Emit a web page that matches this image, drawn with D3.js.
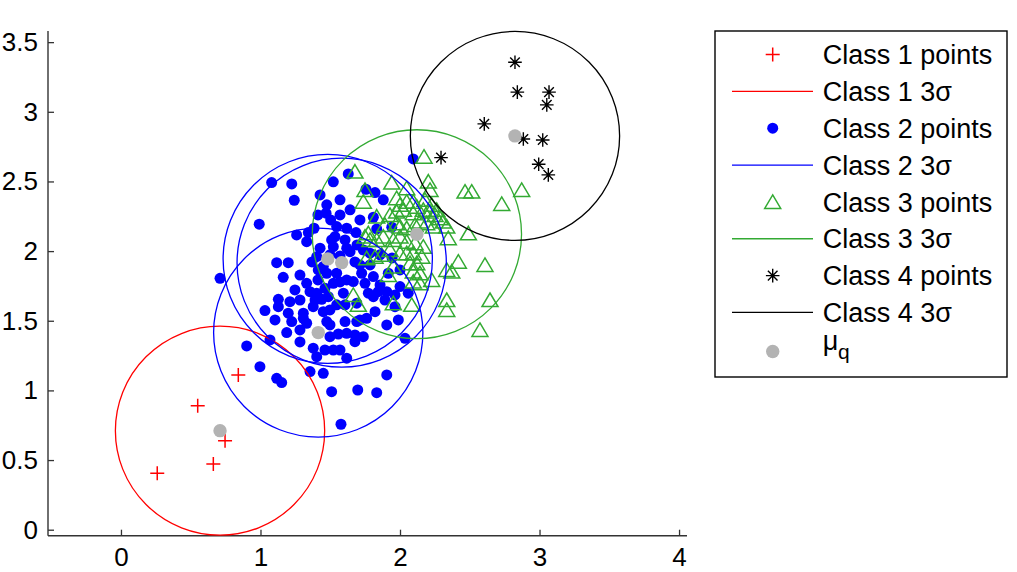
<!DOCTYPE html>
<html><head><meta charset="utf-8">
<script src="https://cdn.jsdelivr.net/npm/d3@7"></script>
<style>
body{margin:0;background:#fff}
svg{display:block}
text{font-family:"Liberation Sans",Arial,Helvetica,sans-serif;fill:#000}
</style>
</head><body>
<svg id="c" width="1017" height="572"></svg>
<script>
const xTicks = [0, 1, 2, 3, 4];
const yTicks = [0, 0.5, 1, 1.5, 2, 2.5, 3, 3.5];

const class1Points = [[0.841,1.111],[0.550,0.890],[0.746,0.639],[0.662,0.472],[0.260,0.405]];

const class2Points = [
[2.095,2.662],[1.629,2.554],[1.080,2.492],[1.224,2.482],[1.522,2.497],[1.242,2.365],[1.756,2.444],[1.821,2.420],
[1.880,2.368],[1.475,2.332],[1.470,2.272],[1.503,2.224],[1.546,2.176],[0.991,2.193],[1.809,2.243],[1.618,2.164],
[1.685,2.133],[1.343,2.133],[1.259,2.116],[1.534,2.104],[1.331,2.068],[1.427,2.021],[1.510,2.080],[1.522,2.032],
[1.618,2.021],[1.642,1.996],[1.737,2.008],[1.785,1.985],[1.857,1.973],[1.116,1.917],[1.199,1.917],[1.163,1.812],
[1.450,1.889],[1.475,1.841],[1.546,1.841],[1.618,1.793],[1.665,1.781],[1.725,1.841],[1.809,1.817],[1.916,1.841],
[1.331,1.769],[1.355,1.709],[1.403,1.698],[1.391,1.649],[1.439,1.654],[1.486,1.673],[1.462,1.733],[1.773,1.698],
[1.809,1.673],[1.844,1.709],[1.905,1.709],[2.000,1.745],[2.059,1.698],[1.128,1.654],[1.211,1.637],[1.128,1.601],
[1.032,1.573],[1.104,1.506],[1.199,1.554],[1.224,1.494],[1.307,1.518],[1.331,1.482],[1.307,1.554],[1.606,1.494],
[1.690,1.494],[1.761,1.518],[1.821,1.565],[1.905,1.470],[1.988,1.506],[1.188,1.415],[1.283,1.434],[1.475,1.494],
[1.498,1.386],[1.558,1.405],[1.618,1.410],[1.677,1.398],[1.737,1.386],[1.068,1.362],[0.901,1.319],[2.036,1.374],
[1.378,1.303],[1.403,1.242],[1.462,1.290],[1.522,1.290],[1.570,1.290],[1.618,1.231],[0.996,1.170],[1.355,1.135],
[1.450,1.123],[1.905,1.111],[1.116,1.087],[1.152,1.056],[1.510,0.991],[1.697,1.003],[1.833,0.984],[1.577,0.757],
[0.710,1.805],[1.941,2.172],[1.833,2.159],[1.570,2.260],[1.384,2.164],[1.677,1.350],[1.403,1.960],[1.570,1.965],
[1.677,1.922],[1.414,1.865],[1.522,1.769],[1.594,1.698],[1.546,1.614],[1.690,1.626],[1.450,1.565],[1.378,1.601],
[1.964,1.601],[1.749,1.769],
[1.427,2.403],[1.570,2.368],[1.412,2.260],[1.642,2.296],[1.713,2.224],[1.606,2.080],[1.692,2.044],[1.369,1.922],
[1.498,1.973],[1.283,1.828],[1.247,1.721],[1.412,1.793],[1.570,1.779],[1.283,1.649],[1.498,1.578],[1.606,1.614],
[1.892,1.649],[1.964,1.685],[1.713,1.901],[1.785,1.901],[1.857,1.757],[1.943,1.951],[2.000,1.865],[1.498,1.470],
[1.283,1.348],[1.713,1.506]
];

const class3Points = [
[2.172,2.678],[1.677,2.571],[1.749,2.439],[1.941,2.492],[2.048,2.452],[2.203,2.499],[2.215,2.439],[2.466,2.427],
[2.514,2.427],[2.872,2.439],[2.729,2.339],[1.737,2.355],[1.976,2.380],[2.000,2.332],[2.048,2.355],[2.095,2.355],
[2.120,2.319],[2.179,2.368],[2.227,2.332],[2.263,2.296],[1.833,2.248],[1.928,2.260],[1.976,2.284],[2.024,2.296],
[2.095,2.272],[2.167,2.296],[2.215,2.284],[2.251,2.260],[2.287,2.236],[2.310,2.212],[1.773,2.128],[1.892,2.188],
[1.976,2.200],[2.000,2.176],[2.048,2.164],[2.108,2.188],[2.143,2.212],[2.191,2.200],[2.239,2.176],[2.335,2.176],
[2.346,2.093],[2.490,2.128],[1.833,2.080],[1.880,2.104],[1.952,2.080],[2.000,2.104],[2.048,2.068],[2.108,2.057],
[2.167,2.032],[1.761,1.949],[1.821,1.960],[1.869,1.973],[1.928,2.008],[2.000,1.985],[2.048,1.985],[2.095,1.985],
[2.156,1.960],[2.072,1.913],[2.120,1.913],[2.095,1.853],[2.143,1.841],[2.227,1.793],[2.335,1.865],[2.371,1.853],
[2.418,1.924],[2.609,1.901],[1.916,1.829],[2.095,1.781],[2.143,1.769],[1.665,1.685],[1.701,1.614],[1.952,1.626],
[2.084,1.614],[2.335,1.649],[2.335,1.578],[2.645,1.649],[2.573,1.434],[1.749,2.104],[1.785,2.080],[1.952,1.889]
];

const class4Points = [[2.824,3.356],[2.841,3.141],[3.068,3.141],[3.052,3.050],[2.604,2.913],
                      [2.884,2.805],[3.023,2.798],[2.294,2.671],[2.994,2.624],[3.063,2.547]];

const muQ = [[0.710,0.711],[1.414,1.415],[1.482,1.944],[1.582,1.917],[2.121,2.121],[2.824,2.827]];
const muClass = [1, 2, 2, 2, 3, 4];
const radius3Sigma = 0.75;

const legendLabels = ["Class 1 points","Class 1 3σ","Class 2 points","Class 2 3σ",
                      "Class 3 points","Class 3 3σ","Class 4 points","Class 4 3σ"];

const colors = {1:"#ff0000", 2:"#0000ff", 3:"#33aa33", 4:"#000000", mu:"#b3b3b3", axis:"#333333"};

const svg = d3.select("#c");
const x = d3.scaleLinear().domain([-0.523, 4.057]).range([48, 687]);
const y = d3.scaleLinear().domain([-0.043, 3.58]).range([535.7, 31]);

// axes
const xAxis = d3.axisBottom(x).tickValues(xTicks).tickFormat(d3.format("")).tickSize(-6).tickPadding(12);
const yAxis = d3.axisLeft(y).tickValues(yTicks).tickFormat(d => String(d)).tickSize(-6).tickPadding(10);
const gx = svg.append("g").attr("transform", "translate(0,535.7)").call(xAxis);
const gy = svg.append("g").attr("transform", "translate(48,0)").call(yAxis);
[gx, gy].forEach(g => {
  g.select(".domain").attr("stroke", colors.axis).attr("stroke-width", 1.4);
  g.selectAll(".tick line").attr("stroke", colors.axis).attr("stroke-width", 1.3);
  g.selectAll(".tick text").attr("font-size", 26).attr("fill", "#000")
    .attr("font-family", '"Liberation Sans",Arial,sans-serif');
});
gx.select(".domain").attr("d", `M48,0H687`);
gy.select(".domain").attr("d", `M0,31V535.7`);

// marker helpers
function plusPath(s){ return `M${-s},0H${s}M0,${-s}V${s}`; }
function starPath(s){ const d = s*0.7071; return `M${-s},0H${s}M0,${-s}V${s}M${-d},${-d}L${d},${d}M${-d},${d}L${d},${-d}`; }
function triPath(w,h){ return `M0,${-h/2 - 0.5}L${w/2},${h/2}L${-w/2},${h/2}Z`; }

const plot = svg.append("g");

plot.selectAll(".c1").data(class1Points).enter().append("path")
  .attr("d", plusPath(7)).attr("transform", d => `translate(${x(d[0])},${y(d[1])})`)
  .attr("stroke", colors[1]).attr("stroke-width", 1.5).attr("fill", "none");
plot.selectAll(".c2").data(class2Points).enter().append("circle")
  .attr("cx", d => x(d[0])).attr("cy", d => y(d[1])).attr("r", 5.5).attr("fill", colors[2]);
plot.selectAll(".c3").data(class3Points).enter().append("path")
  .attr("d", triPath(16, 13)).attr("transform", d => `translate(${x(d[0])},${y(d[1])})`)
  .attr("stroke", colors[3]).attr("stroke-width", 1.5).attr("fill", "none");
plot.selectAll(".c4").data(class4Points).enter().append("path")
  .attr("d", starPath(6.8)).attr("transform", d => `translate(${x(d[0])},${y(d[1])})`)
  .attr("stroke", colors[4]).attr("stroke-width", 1.4).attr("fill", "none");

plot.selectAll(".sig").data(muQ).enter().append("ellipse")
  .attr("cx", d => x(d[0])).attr("cy", d => y(d[1]))
  .attr("rx", x(radius3Sigma) - x(0)).attr("ry", y(0) - y(radius3Sigma))
  .attr("fill", "none").attr("stroke", (d, i) => colors[muClass[i]]).attr("stroke-width", 1.3);

plot.selectAll(".mu").data(muQ).enter().append("circle")
  .attr("cx", d => x(d[0])).attr("cy", d => y(d[1])).attr("r", 6.7).attr("fill", colors.mu);

// legend
const lg = svg.append("g");
lg.append("rect").attr("x", 715).attr("y", 31).attr("width", 292).attr("height", 346)
  .attr("fill", "#fff").attr("stroke", "#000").attr("stroke-width", 1.4);
const rowY = i => 54.5 + i * 36.85;
const mx = 772.7;
legendLabels.forEach((lab, i) => {
  const cy = rowY(i);
  const cls = Math.floor(i / 2) + 1;
  if (i % 2 === 1) {
    lg.append("line").attr("x1", 732).attr("x2", 813).attr("y1", cy).attr("y2", cy)
      .attr("stroke", colors[cls]).attr("stroke-width", 1.3);
  } else if (cls === 1) {
    lg.append("path").attr("d", plusPath(7)).attr("transform", `translate(${mx},${cy})`)
      .attr("stroke", colors[1]).attr("stroke-width", 1.5).attr("fill", "none");
  } else if (cls === 2) {
    lg.append("circle").attr("cx", mx).attr("cy", cy).attr("r", 5.5).attr("fill", colors[2]);
  } else if (cls === 3) {
    lg.append("path").attr("d", triPath(16, 13)).attr("transform", `translate(${mx},${cy})`)
      .attr("stroke", colors[3]).attr("stroke-width", 1.5).attr("fill", "none");
  } else {
    lg.append("path").attr("d", starPath(6.8)).attr("transform", `translate(${mx},${cy})`)
      .attr("stroke", colors[4]).attr("stroke-width", 1.4).attr("fill", "none");
  }
  lg.append("text").attr("x", 822.7).attr("y", cy + 9.6).attr("font-size", 27).text(lab);
});
lg.append("circle").attr("cx", mx).attr("cy", 351.5).attr("r", 6.7).attr("fill", colors.mu);
lg.append("text").attr("x", 822.7).attr("y", 350).attr("font-size", 27).text("μ");
lg.append("text").attr("x", 838).attr("y", 359).attr("font-size", 21).text("q");
</script>
</body></html>
